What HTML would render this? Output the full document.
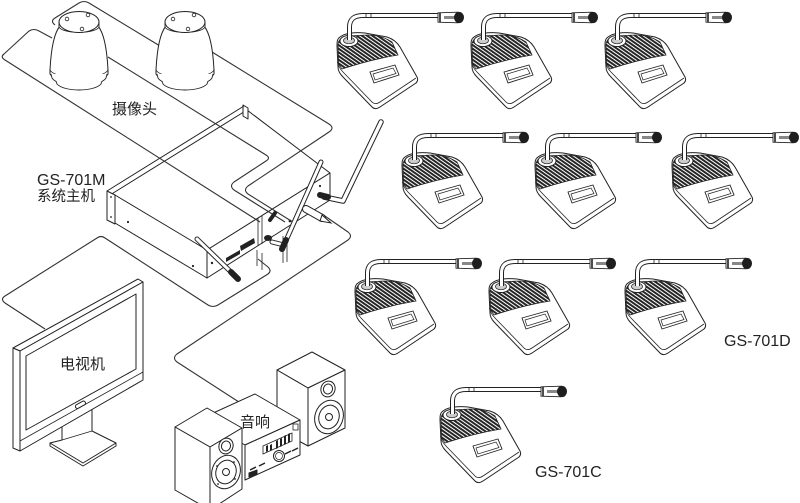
<!DOCTYPE html>
<html><head><meta charset="utf-8">
<style>
html,body{margin:0;padding:0;background:#fff;width:800px;height:503px;overflow:hidden}
svg{display:block}
text{font-family:"Liberation Sans","Noto Sans CJK SC",sans-serif;fill:#222}
</style></head>
<body>
<svg width="800" height="503" viewBox="0 0 800 503" xmlns="http://www.w3.org/2000/svg">
<defs>
  <pattern id="gr" width="3" height="3" patternUnits="userSpaceOnUse" patternTransform="rotate(35)">
    <rect width="3" height="3" fill="#fff"/>
    <rect width="3" height="2" fill="#262626"/>
  </pattern>
  <g id="mic">
    <path d="M5,25 C2,27 2,30 2,34 L3,55 C3,59 5,62 8,65 L37,95 C39,97 42,97 45,95 L81,71 C83,69 83,67 82,65 L65,35 C62,30 58,27 52,25 L30,21 C20,20 10,21 5,25 Z" fill="#fff" stroke="#222" stroke-width="1"/>
    <path d="M2.5,50 C3,54 5,57 8,60 L37,90 C39,92 42,92 45,90 L81,66" fill="none" stroke="#222" stroke-width="0.8"/>
    <path d="M3,33 C3,28 7,25 13,24 L32,23 C43,23 51,26 57,30 L63,43 C45,46 25,51 7,57 L3.5,52 Z" fill="url(#gr)" stroke="#222" stroke-width="0.8"/>
    <path d="M35,60 L60,53 L64,63 L39,71 Z" fill="#fff" stroke="#222" stroke-width="0.9"/>
    <path d="M38,62 L58,56 L61,61.5 L40,68 Z" fill="none" stroke="#222" stroke-width="0.7"/>
    <ellipse cx="14" cy="29" rx="9" ry="5.5" fill="#fff" stroke="#222"/>
    <ellipse cx="14" cy="28.5" rx="5.5" ry="3.3" fill="#ccc" stroke="#222" stroke-width="0.7"/>
    <path d="M14.5,28 L14.5,15 Q14.5,3.5 28,3.5 L104,3.5" fill="none" stroke="#222" stroke-width="5"/>
    <path d="M14.5,28 L14.5,15 Q14.5,3.5 28,3.5 L104,3.5" fill="none" stroke="#fff" stroke-width="3"/>
    <path d="M31,1 L31,6 M36,1 L36,6" stroke="#222" stroke-width="0.8"/>
    <path d="M103,0.8 L123,0.2 L123,10.8 L103,10.2 Z" fill="#fff" stroke="#222" stroke-width="0.9"/>
    <path d="M105,1 L105,10" stroke="#222" stroke-width="1.6"/>
    <path d="M109,5.5 L121,5.5" stroke="#888" stroke-width="3"/>
    <ellipse cx="124" cy="5.5" rx="5" ry="5.6" fill="#1e1e1e"/>
  </g>
  <g id="cam">
    <path d="M60,26 C54,33 51,50 50,70 L50,74 C55,84 103,84 108,74 L108,70 C107,50 104,33 98,26 Z" fill="#fff" stroke="#222" stroke-width="1"/>
    <path d="M50,70 C55,80 103,80 108,70" fill="none" stroke="#222" stroke-width="0.8"/>
    <path d="M51,74 L52,78 C58,88 100,88 106,78 L107,74" fill="#fff" stroke="#222" stroke-width="0.9"/>
    <path d="M56,81 L57,84 C64,92 94,92 101,84 L102,81" fill="#fff" stroke="#222" stroke-width="0.9"/>
    <path d="M59,22 L59,27 C62,34 96,34 99,27 L99,22" fill="#fff" stroke="#222" stroke-width="0.9"/>
    <ellipse cx="79" cy="22" rx="20" ry="10.5" fill="#fff" stroke="#222"/>
    <circle cx="67" cy="19" r="1.8" fill="none" stroke="#222" stroke-width="0.8"/>
    <circle cx="88" cy="15" r="1.8" fill="none" stroke="#222" stroke-width="0.8"/>
    <circle cx="82" cy="29" r="1.8" fill="none" stroke="#222" stroke-width="0.8"/>
  </g>
</defs>

<!-- HOST BOX -->
<g stroke="#222" stroke-width="1" fill="#fff" stroke-linejoin="round">
  <path d="M110,195 L247,110 L330,173 L207,250 Z"/>
  <path d="M115,195 L207,250 L207,278 L115,223 Z"/>
  <path d="M207,250 L330,173 L330,200 L207,278 Z"/>
  <path d="M107,191 L115,195 L115,224 L107,220 Z"/>
  <path d="M243,105 L248,108 L248,119 L243,116 Z"/>
  <path d="M107,191 L244,106" fill="none"/>
  <path d="M258,218 L258,246 M262,216 L262,244" fill="none" stroke-width="0.8"/>
</g>
<g fill="#222">
  <path d="M240,246 L254,238 L255,243 L241,251 Z"/>
  <path d="M226,258 L240,250 L240,254 L226,262 Z"/>
  <ellipse cx="268" cy="238" rx="4" ry="3"/>
  <circle cx="212" cy="263" r="1.2"/>
  <circle cx="193" cy="266" r="1.1"/>
  <circle cx="128" cy="222" r="1.1"/>
  <circle cx="290" cy="221" r="1.4"/>
  <circle cx="320" cy="186" r="1.1"/>
  <circle cx="111" cy="197" r="0.9"/>
  <circle cx="111" cy="217" r="0.9"/>
</g>
<path d="M257,250 L257,266 M262,253 L262,270 M283,236 L283,263 M287,234 L287,262" stroke="#222" stroke-width="0.8" fill="none"/>

<!-- CABLES -->
<g fill="none" stroke="#333" stroke-width="1.1" stroke-linejoin="round">
  <path d="M52,38 L39,31 Q34,28 29,31 L4,54 Q0,57 5,60 L260,222"/>
  <path d="M55,25 Q50,21 55,18 L79,3 Q84,0 89,3 L160,46"/>
  <path d="M212,52 L329,124 Q335,128 329,132 L248,186 Q243,190 248,194 L296,224"/>
  <path d="M108,57 L266,155 Q271,158 266,161 L234,182 Q229,186 234,190 L285,222"/>
  <path d="M45,329 L5,303 Q0,299 5,296 L97,238 Q101,235 105,238 L208,305 Q213,308 218,305 L268,274 Q272,271 268,267 L258,259"/>
  <path d="M322,214 L348,232 Q353,236 348,240 L177,354 Q172,358 177,362 L242,404"/>
</g>

<!-- CAMERAS -->
<use href="#cam"/>
<use href="#cam" x="106"/>

<!-- ANTENNAS & PLUG -->
<g fill="none" stroke-linecap="round">
  <path d="M197,239 L232,273" stroke="#222" stroke-width="5"/>
  <path d="M197,239 L232,273" stroke="#fff" stroke-width="3"/>
  <path d="M231,272 L238,279" stroke="#222" stroke-width="6"/>
  <path d="M321,162 L284,245 L272,242" stroke="#222" stroke-width="5" stroke-linejoin="round"/>
  <path d="M321,162 L284,245 L272,242" stroke="#fff" stroke-width="3" stroke-linejoin="round"/>
  <path d="M286,240 L282,249" stroke="#222" stroke-width="6"/>
  <path d="M381,122 L343,201 L324,197" stroke="#222" stroke-width="5.5" stroke-linejoin="round"/>
  <path d="M381,122 L343,201 L324,197" stroke="#fff" stroke-width="3.5" stroke-linejoin="round"/>
  <path d="M328,197 L320,195" stroke="#222" stroke-width="6"/>
  <path d="M306,209 L322,218" stroke="#222" stroke-width="8"/>
  <path d="M306,209 L322,218" stroke="#fff" stroke-width="6"/>
  <path d="M322,215 L331,223 L320,221 Z" fill="#fff" stroke="#222" stroke-width="1"/>
  <path d="M270,220 L275,213" stroke="#222" stroke-width="4"/>
</g>

<!-- TV -->
<g stroke="#222" stroke-width="1" fill="#fff" stroke-linejoin="round">
  <path d="M62,420 L62,440 L50,443 L83,463 L116,443 L92,431 L92,408"/>
  <path d="M50,443 L50,446 L83,466 L116,446 L116,443" fill="none"/>
  <path d="M62,440 L92,431" fill="none" stroke-width="0.7"/>
  <path d="M13,348 L138,279 L143,282 L20,351 Z"/>
  <path d="M13,348 L20,351 L20,451 L13,448 Z"/>
  <path d="M20,351 L143,282 L143,380 L20,451 Z"/>
  <path d="M26,356 L136,294 L136,369 L26,430 Z"/>
  <path d="M20,441 L143,372" fill="none" stroke-width="0.8"/>
  <rect x="75" y="403" width="11" height="4" rx="2" transform="rotate(-29 80 405)"/>
</g>

<!-- SPEAKERS & AMP -->
<g stroke="#222" stroke-width="1" fill="#fff" stroke-linejoin="round">
  <path d="M277,370 L312,352 L345,370 L308,388 Z"/>
  <path d="M277,370 L308,388 L308,446 L277,429 Z"/>
  <path d="M308,388 L345,370 L345,428 L308,446 Z"/>
  <ellipse cx="328" cy="389" rx="7" ry="8" transform="rotate(20 328 389)"/>
  <ellipse cx="328" cy="389" rx="4.5" ry="5" transform="rotate(20 328 389)"/>
  <ellipse cx="329" cy="417" rx="14" ry="17" transform="rotate(20 329 417)"/>
  <ellipse cx="329" cy="417" rx="10" ry="12" transform="rotate(20 329 417)"/>
  <circle cx="329" cy="417" r="3.5"/>
  <path d="M200,419 L255,394 L300,420 L245,445 Z"/>
  <path d="M245,445 L300,420 L300,455 L245,480 Z"/>
  <path d="M249,473 L257,470 L257,474 L249,477 Z" fill="#222"/>
</g>
<g fill="#222">
  <path d="M263,446 L292,433 L292,441 L263,454 Z" fill="#fff" stroke="#222" stroke-width="0.8"/>
  <path d="M266,446 L268,445 L268,451 L266,452 Z M270,445 L272,444 L272,450 L270,451 Z M276,441 L278,440 L278,448 L276,449 Z M280,439 L282,438 L282,446 L280,447 Z M284,436 L286,435 L286,444 L284,445 Z M288,434 L290,433 L290,442 L288,443 Z"/>
  <path d="M250,470 L256,467 M259,466 L265,463 M285,454 L291,451 M292,451 L298,448" stroke="#222" stroke-width="1.5"/>
  <rect x="293" y="424" width="5" height="6" fill="none" stroke="#222" stroke-width="0.8"/>
</g>
<circle cx="279" cy="456" r="5.5" fill="#fff" stroke="#222"/>
<circle cx="279" cy="456" r="3.5" fill="none" stroke="#222" stroke-width="0.7"/>
<g stroke="#222" stroke-width="1" fill="#fff" stroke-linejoin="round">
  <path d="M175,427 L207,408 L242,428 L210,447 Z"/>
  <path d="M175,427 L210,447 L210,510 L175,490 Z"/>
  <path d="M210,447 L242,428 L242,489 L210,510 Z"/>
  <ellipse cx="226" cy="446" rx="7" ry="8" transform="rotate(20 226 446)"/>
  <ellipse cx="226" cy="446" rx="4.5" ry="5" transform="rotate(20 226 446)"/>
  <ellipse cx="226" cy="472" rx="14" ry="17" transform="rotate(20 226 472)"/>
  <ellipse cx="226" cy="472" rx="10" ry="12" transform="rotate(20 226 472)"/>
  <circle cx="226" cy="472" r="3.5"/>
</g>
<g fill="#222">
  <circle cx="217" cy="466" r="0.9"/><circle cx="234" cy="462" r="0.9"/>
  <circle cx="218" cy="484" r="0.9"/><circle cx="235" cy="479" r="0.9"/>
</g>

<!-- MICS -->
<use href="#mic" x="335" y="12"/>
<use href="#mic" x="469" y="12"/>
<use href="#mic" x="603" y="12"/>
<use href="#mic" x="400" y="132"/>
<use href="#mic" x="533" y="132"/>
<use href="#mic" x="670" y="132"/>
<use href="#mic" x="353" y="258"/>
<use href="#mic" x="487" y="258"/>
<use href="#mic" x="623" y="258"/>
<use href="#mic" x="438" y="386"/>

<!-- LABELS -->
<text x="112" y="114" font-size="15">摄像头</text>
<text x="37" y="185" font-size="16">GS-701M</text>
<text x="37" y="201" font-size="14.5">系统主机</text>
<text x="60" y="369" font-size="15">电视机</text>
<text x="240" y="427" font-size="15">音响</text>
<text x="724" y="346" font-size="16">GS-701D</text>
<text x="535" y="477" font-size="16">GS-701C</text>
</svg>
</body></html>
